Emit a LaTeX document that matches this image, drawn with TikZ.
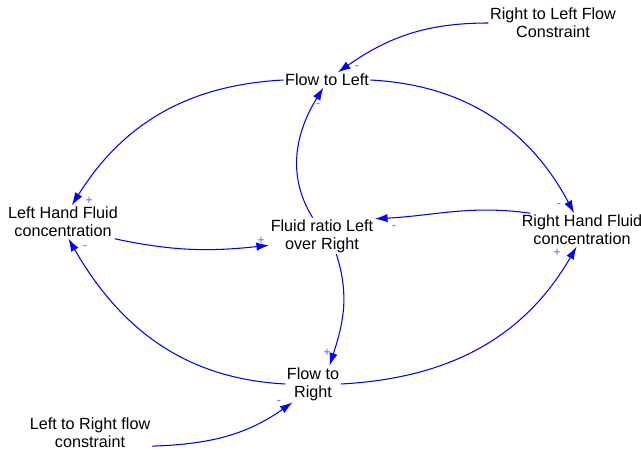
\documentclass[tikz,border=0pt]{standalone}
\usepackage{fontspec}
\setmainfont{Liberation Sans}
\usepackage{tikz}
\usetikzlibrary{arrows, arrows.meta, positioning}

\definecolor{linkblue}{RGB}{0,0,255}
\definecolor{signblue}{RGB}{100,100,255}

\begin{document}
\begin{tikzpicture}[x=0.025cm, y=0.025cm,
  var/.style={align=center, inner sep=1pt, font=\fontsize{11.5}{13}\selectfont},
  sign/.style={text=signblue, inner sep=0pt, font=\fontsize{9}{9}\selectfont},
  link/.style={draw=linkblue, line width=0.75pt, -{Latex[length=9pt,width=6pt]}}]

\useasboundingbox (0,0) rectangle (641,-453);

\node [var] (rlc) at (553,-23)  {Right to Left Flow\\Constraint};
\node [var] (ftl) at (327,-80)  {Flow to Left};
\node [var] (lhc) at (63,-222)  {Left Hand Fluid\\concentration};
\node [var] (frl) at (322,-236) {Fluid ratio Left\\over Right};
\node [var] (rhc) at (582,-230) {Right Hand Fluid\\concentration};
\node [var] (ftr) at (313,-384) {Flow to\\Right};
\node [var] (lrc) at (90,-433)  {Left to Right flow\\constraint};

\path (rlc.west)  edge [link, out=180, in=35]  (ftl.35);
\path (ftl.west)  edge [link, out=183, in=58]  (lhc.62);
\path (ftl.east)  edge [link, out=-3,  in=118] (rhc.115);
\path (frl.117)   edge [link, out=122, in=238] (ftl.245);
\path (rhc.162)   edge [link, out=172, in=3]   (frl.18);
\path (lhc.-18)   edge [link, out=-12, in=186] (frl.190);
\path (frl.-52)   edge [link, out=-72, in=72]  (ftr.48);
\path (ftr.west)  edge [link, out=177, in=-60] (lhc.-72);
\path (ftr.east)  edge [link, out=3,   in=240] (rhc.-108);
\path (lrc.-12)   edge [link, out=2,   in=215] (ftr.222);

\node [sign] (s1)  at (357,-68)  {-};
\node [sign] (s2)  at (89,-201)  {+};
\node [sign] (s3)  at (559,-206) {-};
\node [sign] (s4)  at (318,-106) {-};
\node [sign] (s5)  at (394,-228) {-};
\node [sign] (s6)  at (261,-241) {+};
\node [sign] (s7)  at (327,-353) {+};
\node [sign] (s8)  at (85,-248)  {-};
\node [sign] (s9)  at (557,-253) {+};
\node [sign] (s10) at (279,-403) {-};

\end{tikzpicture}
\end{document}
